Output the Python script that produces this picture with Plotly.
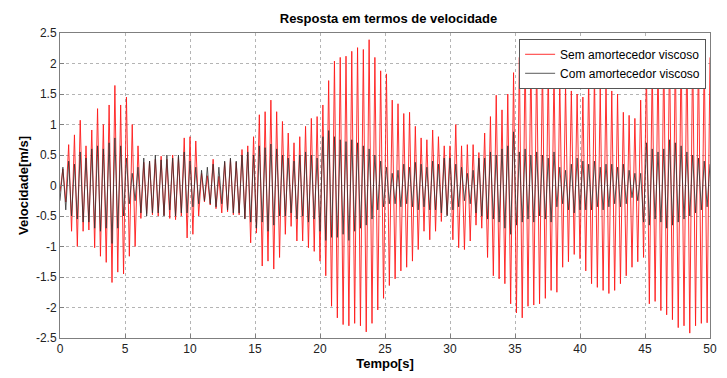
import numpy as np
import plotly.graph_objects as go

# Extrema (one peak and one trough per oscillation cycle, ~0.444 s per cycle)
red_peaks = [0.27, 0.67, 0.83, 1.07, 0.65, 0.91, 1.26, 1.0, 1.32, 1.64,
             1.32, 1.45, 1.0, 0.65, 0.38, 0.4, 0.43, 0.48, 0.43, 0.5,
             0.46, 0.78, 0.8, 0.73, 0.2, 0.16, 0.43, 0.15, 0.38, 0.43,
             0.38, 0.59, 0.65, 0.8, 1.16, 1.21, 1.4, 1.21, 1.05, 0.86,
             0.7, 0.8, 0.97, 1.1, 1.13, 1.32, 1.72, 2.04, 2.1, 2.12,
             2.2, 2.26, 2.23, 2.39, 2.1, 1.88, 1.83, 1.4, 1.34, 1.18,
             1.2, 0.97, 0.78, 0.75, 0.91, 0.8, 0.65, 0.65, 1.0, 0.65,
             0.67, 0.67, 0.54, 0.86, 1.13, 1.48, 1.24, 1.5, 1.85, 2.1,
             2.2, 2.15, 2.1, 2.05, 1.95, 1.9, 1.75, 1.65, 1.55, 1.5,
             1.45, 1.77, 1.85, 1.6, 1.7, 1.55, 1.5, 1.2, 1.15, 1.1,
             1.4, 1.9, 2.0, 2.1, 2.2, 2.3, 2.25, 2.3, 2.35, 2.3,
             2.2, 2.2, 2.1]
red_troughs = [-0.1, -0.27, -0.75, -1.0, -0.75, -0.73, -1.02, -1.16, -1.26, -1.59,
               -1.42, -1.45, -1.16, -1.0, -0.54, -0.46, -0.48, -0.5, -0.49, -0.54,
               -0.56, -0.5, -0.86, -0.8, -0.5, -0.27, -0.32, -0.38, -0.45, -0.43,
               -0.48, -0.48, -0.54, -0.94, -0.78, -1.32, -1.24, -1.37, -1.18, -0.8,
               -0.67, -0.91, -0.91, -1.02, -1.08, -1.24, -1.48, -1.98, -2.17, -2.28,
               -2.3, -2.26, -2.3, -2.4, -2.26, -2.04, -1.85, -1.64, -1.53, -1.4,
               -1.34, -1.24, -1.05, -0.75, -0.89, -0.75, -0.59, -0.48, -0.89, -1.02,
               -1.05, -0.91, -0.65, -0.7, -1.18, -1.48, -1.53, -1.61, -1.94, -2.09,
               -2.17, -1.98, -1.96, -1.94, -1.85, -1.72, -1.75, -1.34, -1.25, -1.13,
               -1.2, -1.4, -1.61, -1.67, -1.72, -1.77, -1.72, -1.61, -1.48, -1.34,
               -1.25, -1.18, -1.94, -1.9, -2.05, -2.12, -2.2, -2.33, -2.3, -2.42,
               -2.3, -2.26, -2.25]

black_peaks = [0.3, 0.4, 0.35, 0.55, 0.45, 0.6, 0.65, 0.6, 0.7, 0.78,
               0.65, 0.45, 0.2, 0.3, 0.45, 0.4, 0.5, 0.42, 0.5, 0.45,
               0.5, 0.55, 0.4, 0.3, 0.25, 0.3, 0.35, 0.3, 0.4, 0.45,
               0.4, 0.5, 0.55, 0.5, 0.65, 0.62, 0.68, 0.6, 0.5, 0.45,
               0.4, 0.5, 0.55, 0.5, 0.45, 0.8, 0.9, 0.8, 0.75, 0.72,
               0.75, 0.7, 0.65, 0.6, 0.5, 0.4, 0.3, 0.2, 0.25, 0.35,
               0.3, 0.38, 0.35, 0.3, 0.4, 0.35, 0.45, 0.45, 0.35, 0.3,
               0.2, 0.25, 0.45, 0.45, 0.55, 0.5, 0.6, 0.65, 0.88, 0.55,
               0.6, 0.5, 0.55, 0.5, 0.45, 0.55, 0.3, 0.25, 0.35, 0.45,
               0.4, 0.35, 0.4, 0.3, 0.35, 0.35, 0.3, 0.35, 0.25, 0.2,
               0.2, 0.7, 0.6, 0.55, 0.6, 0.75, 0.7, 0.65, 0.55, 0.5,
               0.45, 0.4, 0.35]
black_troughs = [-0.25, -0.4, -0.5, -0.55, -0.6, -0.6, -0.7, -0.75, -0.7, -0.95,
                 -0.7, -0.5, -0.3, -0.25, -0.45, -0.5, -0.45, -0.45, -0.5, -0.4,
                 -0.5, -0.45, -0.45, -0.35, -0.3, -0.25, -0.3, -0.35, -0.3, -0.4,
                 -0.45, -0.45, -0.55, -0.6, -0.7, -0.6, -0.75, -0.65, -0.5, -0.5,
                 -0.45, -0.55, -0.5, -0.6, -0.55, -0.75, -0.9, -0.85, -0.85, -0.8,
                 -0.9, -0.75, -0.7, -0.65, -0.55, -0.4, -0.35, -0.3, -0.3, -0.35,
                 -0.3, -0.35, -0.4, -0.35, -0.4, -0.4, -0.45, -0.5, -0.4, -0.35,
                 -0.25, -0.3, -0.45, -0.5, -0.55, -0.55, -0.6, -0.7, -0.8, -0.65,
                 -0.6, -0.55, -0.6, -0.5, -0.55, -0.6, -0.35, -0.3, -0.4, -0.45,
                 -0.4, -0.4, -0.4, -0.35, -0.4, -0.35, -0.3, -0.35, -0.3, -0.2,
                 -0.25, -0.6, -0.65, -0.55, -0.6, -0.7, -0.65, -0.6, -0.55, -0.5,
                 -0.45, -0.4, -0.35]

x_ticks = [0, 5, 10, 15, 20, 25, 30, 35, 40, 45, 50]
y_ticks = [-2.5, -2, -1.5, -1, -0.5, 0, 0.5, 1, 1.5, 2, 2.5]
y_tick_text = ["-2.5", "-2", "-1.5", "-1", "-0.5", "0", "0.5", "1", "1.5", "2", "2.5"]


def interleave(troughs, peaks):
    out = []
    for a, b in zip(troughs, peaks):
        out.extend([a, b])
    return out


red = interleave(red_troughs, red_peaks)
black = interleave(black_troughs, black_peaks)
t = np.linspace(0, 50, len(red))

fig = go.Figure()
fig.add_trace(go.Scatter(x=t, y=red, mode="lines", name="Sem amortecedor viscoso",
                         line=dict(color="#ff1a1a", width=0.9)))
fig.add_trace(go.Scatter(x=t, y=black, mode="lines", name="Com amortecedor viscoso",
                         line=dict(color="#303030", width=0.8)))

axis_common = dict(showgrid=True, gridcolor="#b4b4b4", griddash="dot", gridwidth=1,
                   showline=True, linecolor="#7f7f7f", linewidth=1, mirror=True,
                   ticks="inside", ticklen=4, tickcolor="#7f7f7f",
                   zeroline=False, tickfont=dict(family="Liberation Sans, Arial", size=12, color="#222"))

fig.update_layout(
    width=727, height=378,
    margin=dict(l=60, r=10, t=33, b=36),
    paper_bgcolor="white", plot_bgcolor="white",
    title=dict(text="<b>Resposta em termos de velocidade</b>", x=(60 + 717) / 2 / 727, xanchor="center",
               y=1 - 18 / 378, yanchor="middle",
               font=dict(family="Liberation Sans, Arial", size=13, color="#000")),
    xaxis=dict(range=[0, 50], tickvals=x_ticks,
               title=dict(text="<b>Tempo[s]</b>", standoff=2,
                          font=dict(family="Liberation Sans, Arial", size=13, color="#000")),
               **axis_common),
    yaxis=dict(range=[-2.5, 2.5], tickvals=y_ticks, ticktext=y_tick_text,
               title=dict(text="<b>Velocidade[m/s]</b>", standoff=4,
                          font=dict(family="Liberation Sans, Arial", size=13, color="#000")),
               **axis_common),
    legend=dict(x=0.994, xanchor="right", y=0.981, yanchor="top",
                bgcolor="white", bordercolor="#555", borderwidth=1,
                font=dict(family="Liberation Sans, Arial", size=12, color="#000"),
                tracegroupgap=0, itemwidth=30),
    showlegend=True,
)

fig.write_html("out.html")
